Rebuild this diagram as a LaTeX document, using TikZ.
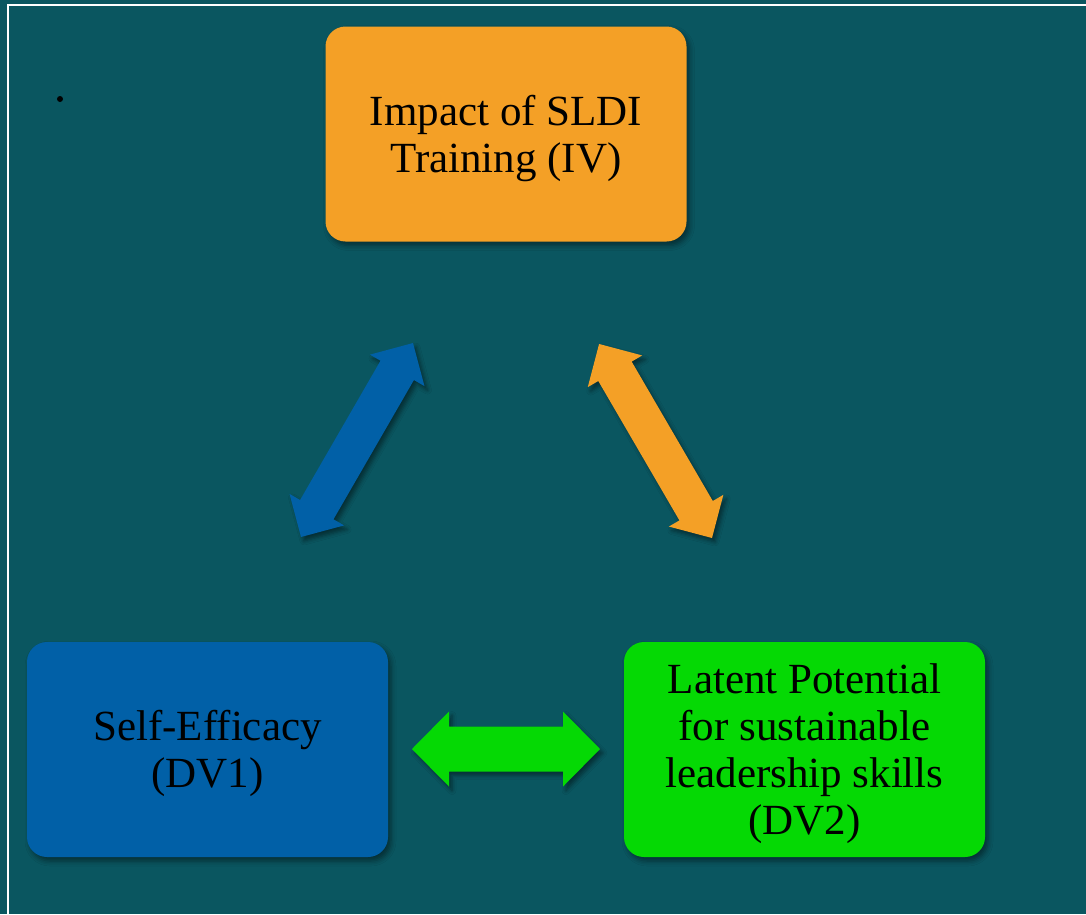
\documentclass[tikz,border=0pt]{standalone}
\usepackage{fontspec}
\setmainfont{Liberation Serif}
\usetikzlibrary{shadows.blur}
\definecolor{bgteal}{HTML}{0A5660}
\definecolor{ivorange}{HTML}{F4A026}
\definecolor{dvblue}{HTML}{0160A7}
\definecolor{dvgreen}{HTML}{05D904}
\tikzset{
  varbox/.style={rounded corners=20pt, minimum width=361pt, minimum height=215pt,
    inner sep=0pt,
    blur shadow={shadow xshift=3pt, shadow yshift=-4pt, shadow blur radius=5pt, shadow opacity=45}},
  vartext/.style={inner sep=0pt, align=center, text=black,
    font=\fontsize{43}{47}\selectfont},
  blockarrow/.style={blur shadow={shadow xshift=3pt, shadow yshift=-4pt, shadow blur radius=4pt, shadow opacity=45}}
}
\newcommand{\dblarrowpath}[4]{% length, shaft half, head half, head length
  (0,0) -- (#4,#3) -- (#4,#2) -- (#1-#4,#2) -- (#1-#4,#3) -- (#1,0)
  -- (#1-#4,-#3) -- (#1-#4,-#2) -- (#4,-#2) -- (#4,-#3) -- cycle}
\begin{document}
\begin{tikzpicture}[x=1pt,y=-1pt]
\useasboundingbox (0,0) rectangle (1086,914);
\fill[bgteal] (0,0) rectangle (1086,914);
\coordinate (frameTL) at (8,5);
\coordinate (frameTR) at (1090,5);
\coordinate (frameBL) at (8,920);
\draw[white, line width=1.6pt] (frameTR) -- (frameTL) -- (frameBL);
\fill[black] (60,99) circle[radius=3pt];

\node[varbox, fill=ivorange] (iv) at (506,134) {};
\node[vartext] (ivtext) at (506,138) {Impact of SLDI\\Training (IV)};
\node[varbox, fill=dvblue] (dv1) at (207.5,749.5) {};
\node[vartext] (dv1text) at (207.5,753) {Self-Efficacy\\(DV1)};
\node[varbox, fill=dvgreen] (dv2) at (804.5,749.5) {};
\node[vartext] (dv2text) at (804.5,753.5) {Latent Potential\\for sustainable\\leadership skills\\(DV2)};

% blue double arrow between DV1 and IV
\coordinate (bA) at (301,537);
\begin{scope}[shift={(bA)}, rotate=60]
  \fill[dvblue, blockarrow] \dblarrowpath{224}{19.3}{31.5}{31.6};
\end{scope}
% orange double arrow between IV and DV2
\coordinate (oA) at (712,538);
\begin{scope}[shift={(oA)}, rotate=120.2]
  \fill[ivorange, blockarrow] \dblarrowpath{224.5}{19.3}{31.5}{31.6};
\end{scope}
% green double arrow between DV1 and DV2
\coordinate (gA) at (412,749);
\begin{scope}[shift={(gA)}]
  \fill[dvgreen, blockarrow] \dblarrowpath{188}{22.5}{37.5}{37};
\end{scope}
\end{tikzpicture}
\end{document}
